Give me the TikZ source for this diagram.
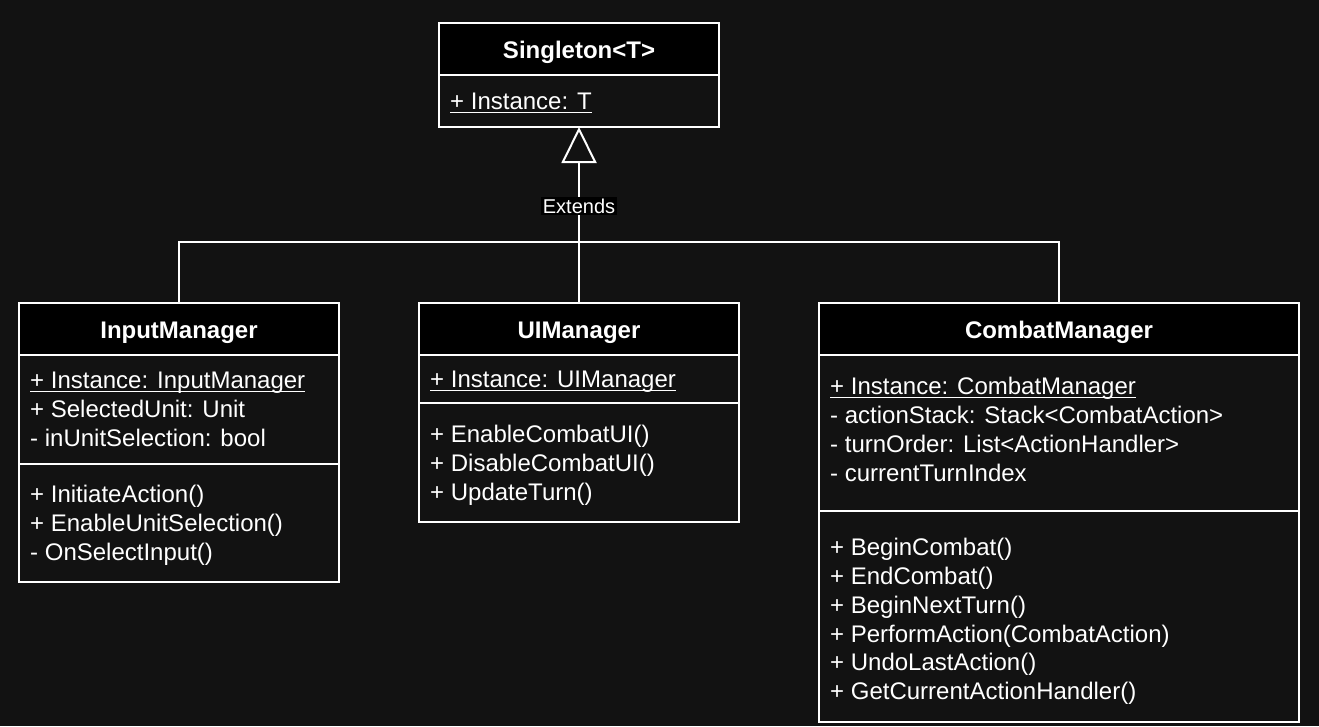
\documentclass[tikz,border=0pt]{standalone}
\usepackage{fontspec}
\setmainfont{Liberation Sans}
\usetikzlibrary{arrows.meta, positioning}
\definecolor{bgdark}{HTML}{121212}
\newsavebox\ulbox
\newcommand{\uln}[1]{\sbox\ulbox{#1}\rlap{\rule[-3.5pt]{\wd\ulbox}{1.6pt}}\usebox\ulbox}

\begin{document}
\begin{tikzpicture}[x=1pt, y=-1pt,
  head/.style={draw=white, line width=2pt, fill=black, text=white, font=\bfseries\fontsize{24}{28.8}\selectfont, minimum width=#1, minimum height=52pt, text height=22pt, text depth=3pt, inner sep=0pt, outer sep=0pt},
  part/.style={draw=white, line width=2pt, fill=bgdark, minimum height=#1, inner sep=0pt, outer sep=0pt},
  member/.style={text=white, anchor=base west, inner sep=0pt, font=\fontsize{24}{28.8}\selectfont},
  link/.style={draw=white, line width=2pt},
  extends/.style={link, -{Triangle[open, length=36pt, width=35pt]}},
  tag/.style={fill=black, text=white, inner sep=1.5pt, font=\fontsize{20}{24}\selectfont}]

  \useasboundingbox[fill=bgdark] (0,0) rectangle (1319,726);

  % Singleton
  \node[head=280pt] (singleton) at (579,49) {Singleton<T>};
  \node[part=52pt, minimum width=280pt, below=0pt of singleton] (singletonAttr) {};
  \node[member] (singletonA0) at ([shift={(11,34.6)}]singletonAttr.north west) {\uln{+ Instance: T}};

  % InputManager
  \node[head=320pt] (input) at (179,329) {InputManager};
  \node[part=109pt, minimum width=320pt, below=0pt of input] (inputAttr) {};
  \node[part=118pt, minimum width=320pt, below=0pt of inputAttr] (inputOps) {};
  \node[member] (inputA0) at ([shift={(11,33.6)}]inputAttr.north west) {\uln{+ Instance: InputManager}};
  \foreach \m [count=\i] in {+ SelectedUnit: Unit, - inUnitSelection: bool}
    \node[member] (inputA\i) at ([shift={(11,33.6+28.8*\i)}]inputAttr.north west) {\m};
  \foreach \m [count=\i from 0] in {+ InitiateAction(), + EnableUnitSelection(), - OnSelectInput()}
    \node[member] (inputO\i) at ([shift={(11,38.6+28.8*\i)}]inputOps.north west) {\m};

  % UIManager
  \node[head=320pt] (ui) at (579,329) {UIManager};
  \node[part=48pt, minimum width=320pt, below=0pt of ui] (uiAttr) {};
  \node[part=119pt, minimum width=320pt, below=0pt of uiAttr] (uiOps) {};
  \node[member] (uiA0) at ([shift={(11,32.6)}]uiAttr.north west) {\uln{+ Instance: UIManager}};
  \foreach \m [count=\i from 0] in {+ EnableCombatUI(), + DisableCombatUI(), + UpdateTurn()}
    \node[member] (uiO\i) at ([shift={(11,39.6+28.8*\i)}]uiOps.north west) {\m};

  % CombatManager
  \node[head=480pt] (combat) at (1059,329) {CombatManager};
  \node[part=156pt, minimum width=480pt, below=0pt of combat] (combatAttr) {};
  \node[part=211pt, minimum width=480pt, below=0pt of combatAttr] (combatOps) {};
  \node[member] (combatA0) at ([shift={(11,39.6)}]combatAttr.north west) {\uln{+ Instance: CombatManager}};
  \foreach \m [count=\i] in {- actionStack: Stack<CombatAction>, - turnOrder: List<ActionHandler>, - currentTurnIndex}
    \node[member] (combatA\i) at ([shift={(11,39.6+28.8*\i)}]combatAttr.north west) {\m};
  \foreach \m [count=\i from 0] in {+ BeginCombat(), + EndCombat(), + BeginNextTurn(), + PerformAction(CombatAction), + UndoLastAction(), + GetCurrentActionHandler()}
    \node[member] (combatO\i) at ([shift={(11,44.6+28.8*\i)}]combatOps.north west) {\m};

  % Inheritance
  \coordinate (join) at (579,242);
  \draw[link] (input.north) |- (join) -| (combat.north);
  \draw[extends] (ui.north) -- (singletonAttr.south) node[tag, pos=0.55] (extendsTag) {Extends};
\end{tikzpicture}
\end{document}
